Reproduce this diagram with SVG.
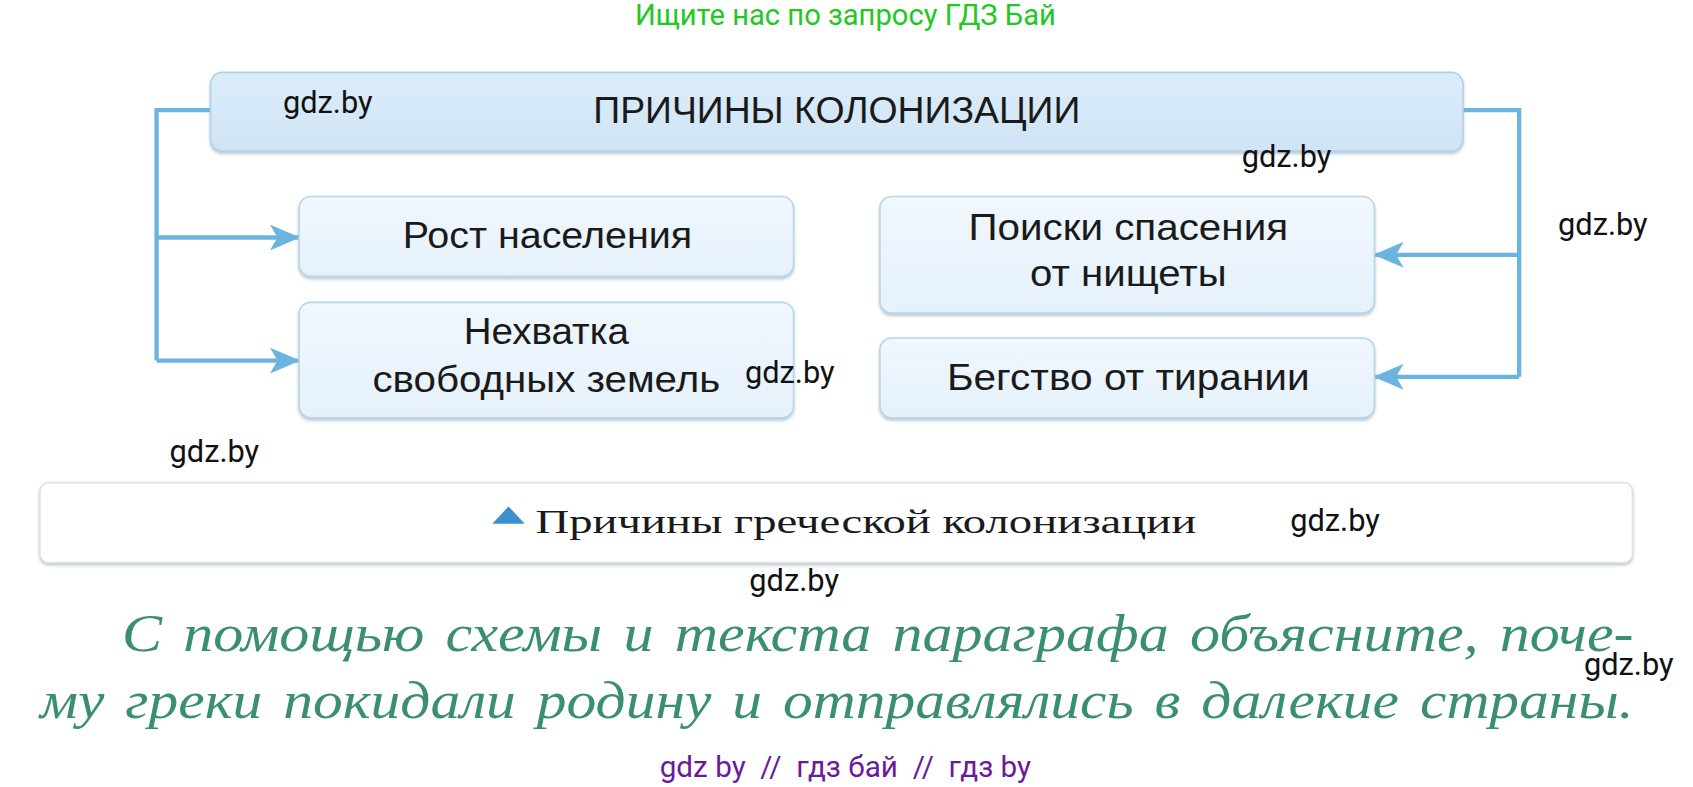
<svg xmlns="http://www.w3.org/2000/svg" width="1693" height="787" viewBox="0 0 1693 787">
<defs>
<linearGradient id="gTitle" x1="0" y1="0" x2="0" y2="1">
<stop offset="0" stop-color="#dcedfa"/><stop offset="1" stop-color="#cfe4f5"/>
</linearGradient>
<linearGradient id="gBox" x1="0" y1="0" x2="0" y2="1">
<stop offset="0" stop-color="#f0f7fd"/><stop offset="1" stop-color="#e6f1fb"/>
</linearGradient>
<filter id="sh" x="-5%" y="-10%" width="110%" height="130%">
<feDropShadow dx="0" dy="2" stdDeviation="1.5" flood-color="#8fa8bb" flood-opacity="0.6"/>
</filter>
<marker id="arr" viewBox="0 0 28 24" refX="27" refY="12" markerWidth="28" markerHeight="24" markerUnits="userSpaceOnUse" orient="auto">
<path d="M0,0 L28,12 L0,24 L7,12 Z" fill="#6cb4e0"/>
</marker>
<style>
.box{fill:url(#gBox);stroke:#b9d5ea;stroke-width:1.5;filter:url(#sh)}
.t{font-family:"Liberation Sans",Arial,sans-serif;font-size:34px;fill:#1a1a1a;text-anchor:middle}
.wm{font-family:Roboto,"Liberation Sans",sans-serif;font-size:28.5px;fill:#111}
.con{fill:none;stroke:#6cb4e0;stroke-width:4}
.it{font-family:"Liberation Serif","Times New Roman",serif;font-style:italic;font-size:49px;fill:#3a8f6e;word-spacing:5px}
</style>
</defs>
<rect width="1693" height="787" fill="#fff"/>
<g transform="scale(1.0797)">
<text x="783" y="23" font-family="Roboto,'Liberation Sans',sans-serif" font-size="27" fill="#22c822" text-anchor="middle">Ищите нас по запросу ГДЗ Бай</text>

<g id="connectors">
<path class="con" d="M195,102 H145 V334"/>
<path class="con" d="M145,220 H277" marker-end="url(#arr)"/>
<path class="con" d="M145,334 H277" marker-end="url(#arr)"/>
<path class="con" d="M1355,102 H1407 V349"/>
<path class="con" d="M1407,236 H1273" marker-end="url(#arr)"/>
<path class="con" d="M1407,349 H1273" marker-end="url(#arr)"/>
</g>

<g id="title">
<rect x="195" y="67" width="1160" height="73" rx="11" fill="url(#gTitle)" stroke="#b3d1e8" stroke-width="1.5" filter="url(#sh)"/>
<text class="t" x="775" y="114" font-size="35" textLength="451" lengthAdjust="spacingAndGlyphs">ПРИЧИНЫ КОЛОНИЗАЦИИ</text>
</g>
<g id="n1">
<rect class="box" x="277" y="182" width="458" height="74" rx="11"/>
<text class="t" x="507" y="230" textLength="268" lengthAdjust="spacingAndGlyphs">Рост населения</text>
</g>
<g id="n2">
<rect class="box" x="277" y="280" width="458" height="107" rx="11"/>
<text class="t" x="506" y="319" textLength="153" lengthAdjust="spacingAndGlyphs">Нехватка</text>
<text class="t" x="506" y="363" textLength="322" lengthAdjust="spacingAndGlyphs">свободных земель</text>
</g>
<g id="n3">
<rect class="box" x="815" y="182" width="458" height="108" rx="11"/>
<text class="t" x="1045" y="222" textLength="296" lengthAdjust="spacingAndGlyphs">Поиски спасения</text>
<text class="t" x="1045" y="265" textLength="182" lengthAdjust="spacingAndGlyphs">от нищеты</text>
</g>
<g id="n4">
<rect class="box" x="815" y="313" width="458" height="74" rx="11"/>
<text class="t" x="1045" y="361" textLength="336" lengthAdjust="spacingAndGlyphs">Бегство от тирании</text>
</g>

<g id="caption">
<rect x="37" y="447" width="1475" height="74" rx="8" fill="#fff" stroke="#e2e2e2" stroke-width="1.5" filter="url(#sh)"/>
<path d="M456,485 L471,469 L486,485 Z" fill="#3f8fcf"/>
<text x="496" y="494" font-family="'Liberation Serif','Times New Roman',serif" font-size="31" fill="#1a1a1a" textLength="612" lengthAdjust="spacingAndGlyphs">Причины греческой колонизации</text>
</g>

<text class="it" x="113" y="603" textLength="1400" lengthAdjust="spacingAndGlyphs">С помощью схемы и текста параграфа объясните, поче-</text>
<text class="it" x="37" y="665" textLength="1476" lengthAdjust="spacingAndGlyphs">му греки покидали родину и отправлялись в далекие страны.</text>

<g id="watermarks">
<text class="wm" x="262" y="105">gdz.by</text>
<text class="wm" x="1150" y="155">gdz.by</text>
<text class="wm" x="1443" y="218">gdz.by</text>
<text class="wm" x="690" y="355">gdz.by</text>
<text class="wm" x="157" y="428">gdz.by</text>
<text class="wm" x="1195" y="492">gdz.by</text>
<text class="wm" x="694" y="547">gdz.by</text>
<text class="wm" x="1467" y="625" font-size="22">gdz.by</text>
</g>
<text x="611" y="720" xml:space="preserve" font-family="Roboto,'Liberation Sans',sans-serif" font-size="27" fill="#6a1b9a" textLength="344" lengthAdjust="spacingAndGlyphs">gdz by  //  гдз бай  //  гдз by</text>
</g>
</svg>
